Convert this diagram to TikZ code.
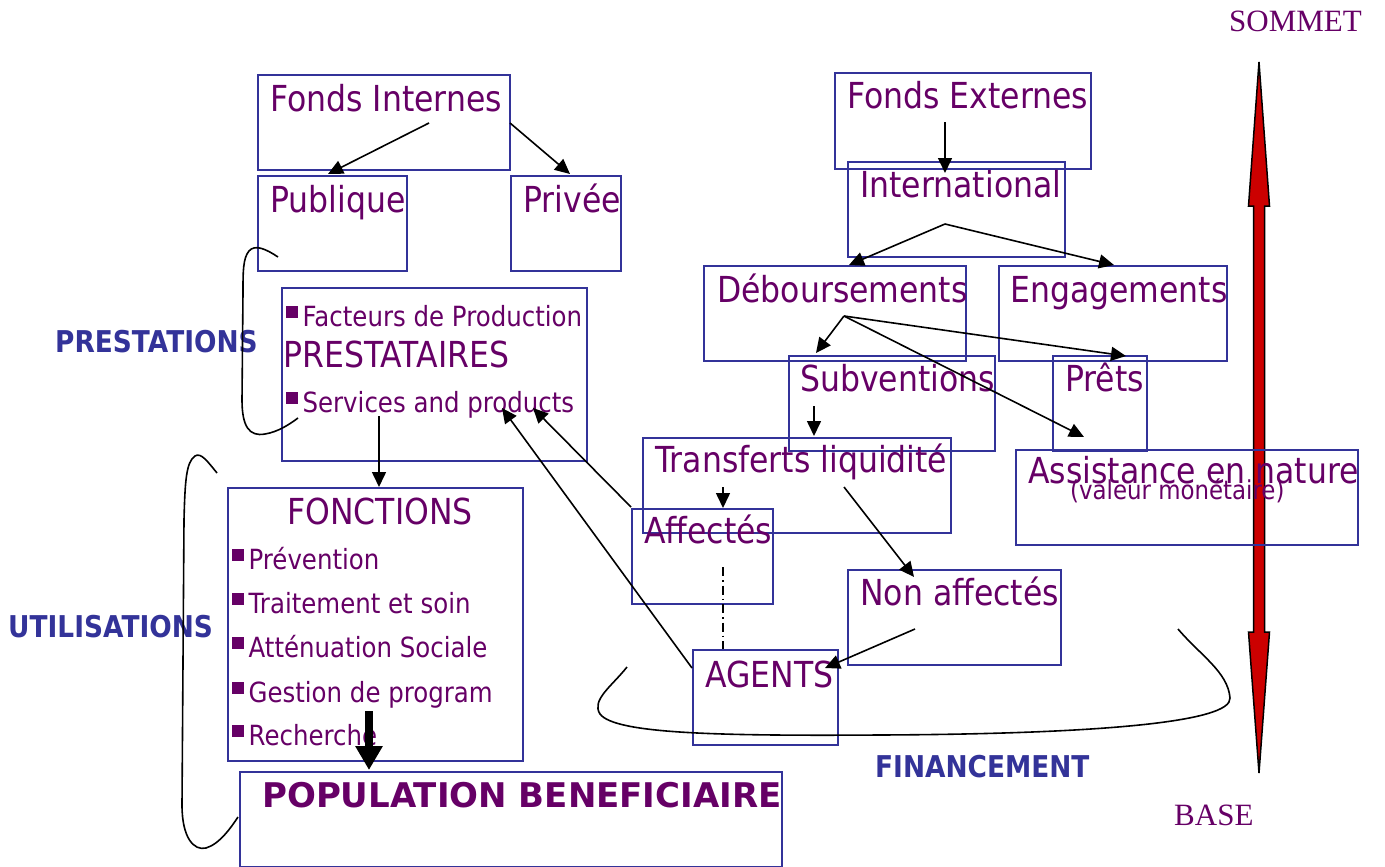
\documentclass[tikz,border=0pt]{standalone}
\usepackage{fontspec}
\setmainfont{DejaVu Sans}[FakeStretch=0.88]
\newfontfamily\serifface{Liberation Serif}
\newfontfamily\popfont{DejaVu Sans Bold}
\usetikzlibrary{arrows.meta}
\definecolor{pur}{RGB}{102,0,102}
\definecolor{bx}{RGB}{51,51,153}
\definecolor{redarr}{RGB}{204,0,0}
\newcommand\bul{\rule[0.3em]{0.43em}{0.43em}\hspace{0.16em}}
\newcommand\mybox[5]{\node[box, minimum width={(#4-#2)*1pt}, minimum height={(#5-#3)*1pt}] (#1) at (#2,#3) {};}
\tikzset{
  box/.style={draw=bx, line width=2pt, inner sep=0pt, anchor=north west},
  txt/.style={text=pur, inner sep=0pt, anchor=base west, font=\fontsize{35.8}{40}\selectfont},
  sm/.style={txt, font=\fontsize{27.8}{30}\selectfont},
  lbl/.style={text=bx, inner sep=0pt, anchor=base west, font=\bfseries\fontsize{30}{32}\selectfont},
  sertxt/.style={text=pur, inner sep=0pt, anchor=base west, font=\serifface\fontsize{31}{34}\selectfont},
  arr/.style={-{Triangle[length=15pt,width=14pt]}, line width=1.6pt},
  curve/.style={line width=1.6pt},
}
\begin{document}
\begin{tikzpicture}[x=1pt,y=-1pt]
\useasboundingbox (0,0) rectangle (1385,867);
% red double arrow
\coordinate (rt) at (1259,62);
\coordinate (rb) at (1259,773);
\filldraw[fill=redarr, draw=black, line width=1.5pt, line join=miter]
  (rt) -- (1269.5,206) -- (1264.5,206) -- (1264.5,632) -- (1269.5,632) -- (rb)
  -- (1248.5,632) -- (1253.5,632) -- (1253.5,206) -- (1248.5,206) -- cycle;
\node[sertxt] (som) at (1229,32) {SOMMET};
\node[sertxt] (bas) at (1174,825) {BASE};

% boxes
\mybox{fi}{257}{74}{509}{169}
\mybox{pub}{257}{175}{406}{270}
\mybox{pri}{510}{175}{620}{270}
\mybox{prest}{281}{287}{586}{460}
\mybox{fonc}{227}{487}{522}{760}
\mybox{popu}{239}{771}{781}{866}
\mybox{fe}{834}{72}{1090}{168}
\mybox{intl}{847}{161}{1064}{256}
\mybox{deb}{703}{265}{965}{360}
\mybox{eng}{998}{265}{1226}{360}
\mybox{sub}{788}{355}{994}{450}
\mybox{pret}{1052}{355}{1146}{450}
\mybox{trans}{642}{437}{950}{532}
\mybox{assist}{1015}{449}{1357}{544}
\mybox{aff}{631}{508}{772}{603}
\mybox{nonaff}{847}{569}{1060}{664}
\mybox{agents}{692}{649}{837}{744}

% texts
\node[txt] (fit) at (270,111) {Fonds Internes};
\node[txt] (pubt) at (270,212) {Publique};
\node[txt] (prit) at (523,212) {Privée};
\node[sm] (fact) at (286,326) {\bul Facteurs de Production};
\node[txt] (prestt) at (283,367) {PRESTATAIRES};
\node[sm] (serv) at (286,412) {\bul Services and products};
\node[txt, anchor=base] (fonct) at (380,524) {FONCTIONS};
\node[sm] (b1) at (232,569) {\bul Prévention};
\node[sm] (b2) at (232,613) {\bul Traitement et soin};
\node[sm] (b3) at (232,657) {\bul Atténuation Sociale};
\node[sm] (b4) at (232,702) {\bul Gestion de program};
\node[sm] (b5) at (232,745) {\bul Recherche};
\node[txt, font=\popfont\fontsize{34}{38}\selectfont] (popt) at (262,807) {POPULATION BENEFICIAIRE};
\node[txt] (fet) at (847,109) {Fonds Externes};
\node[txt] (intlt) at (860,197) {International};
\node[txt] (debt) at (717,302) {Déboursements};
\node[txt] (engt) at (1010,302) {Engagements};
\node[txt] (subt) at (800,391) {Subventions};
\node[txt] (prett) at (1065,391) {Prêts};
\node[txt] (transt) at (655,472) {Transferts liquidité};
\node[txt] (afft) at (644,543) {Affectés};
\node[txt] (nonafft) at (860,605) {Non affectés};
\node[txt] (agentst) at (705,687) {AGENTS};
\node[txt] (assistt) at (1028,483) {Assistance en nature};
\node[txt, font=\fontsize{26}{28}\selectfont] (valt) at (1070,499) {(valeur monétaire)};

% side labels
\node[lbl] (lp) at (55,352) {PRESTATIONS};
\node[lbl] (lu) at (8,637) {UTILISATIONS};
\node[lbl] (lf) at (875,777) {FINANCEMENT};

% connector end points
\coordinate (fiS) at (429,123);  \coordinate (pubN) at (328,174);
\coordinate (fiE) at (510,123);  \coordinate (priN) at (570,174);
\coordinate (servS) at (379,416); \coordinate (foncN) at (379,487);
\coordinate (agW) at (692,668);  \coordinate (servA) at (502,408);
\coordinate (affW) at (631,507); \coordinate (servB) at (533,408);
\coordinate (feS) at (945,122);  \coordinate (intlN) at (945,173);
\coordinate (intlF) at (945,224); \coordinate (debN) at (849,265); \coordinate (engN) at (1114,265);
\coordinate (debF) at (844,316); \coordinate (subN) at (816,353); \coordinate (pretN) at (1126,356); \coordinate (assistN) at (1084,437);
\coordinate (subS) at (814,406); \coordinate (transN) at (814,436);
\coordinate (transS) at (723,487); \coordinate (affN) at (723,508);
\coordinate (transR) at (844,487); \coordinate (nonaffN) at (914,577);
\coordinate (nonaffS) at (915,629); \coordinate (agE) at (825,668);
\coordinate (affS) at (723,567); \coordinate (agN) at (723,649);
\coordinate (b5N) at (369,711); \coordinate (popN) at (369,770);

\draw[arr] (fiS) -- (pubN);
\draw[arr] (fiE) -- (priN);
\draw[arr] (servS) -- (foncN);
\draw[arr] (agW) -- (servA);
\draw[arr] (affW) -- (servB);
\draw[arr] (feS) -- (intlN);
\draw[arr] (intlF) -- (debN);
\draw[arr] (intlF) -- (engN);
\draw[arr] (debF) -- (subN);
\draw[arr] (debF) -- (pretN);
\draw[arr] (debF) -- (assistN);
\draw[arr] (subS) -- (transN);
\draw[arr] (transS) -- (affN);
\draw[arr] (transR) -- (nonaffN);
\draw[arr] (nonaffS) -- (agE);
\draw[line width=1.4pt, dash pattern=on 9pt off 4pt on 1.5pt off 4pt] (affS) -- (agN);
\draw[line width=8pt, -{Triangle[length=24pt,width=26pt]}] (b5N) -- (popN);

% brackets
\draw[curve] (278,257) .. controls (266,249) and (255,244) .. (249,251)
  .. controls (243,258) and (243,272) .. (243,292) -- (242,400)
  .. controls (242,426) and (249,437) .. (265,434)
  .. controls (278,432) and (290,424) .. (298,418);
\draw[curve] (217,473) .. controls (208,462) and (201,452) .. (195,456)
  .. controls (186,462) and (185,482) .. (184,520) -- (182,805)
  .. controls (182,838) and (194,851) .. (206,848)
  .. controls (220,844) and (232,826) .. (238,817);
\draw[curve] (627,667) .. controls (612,686) and (591,700) .. (600,714)
  .. controls (615,734) and (720,736) .. (880,735)
  .. controls (1100,734) and (1232,722) .. (1230,698)
  .. controls (1228,672) and (1200,655) .. (1178,629);
\end{tikzpicture}
\end{document}
